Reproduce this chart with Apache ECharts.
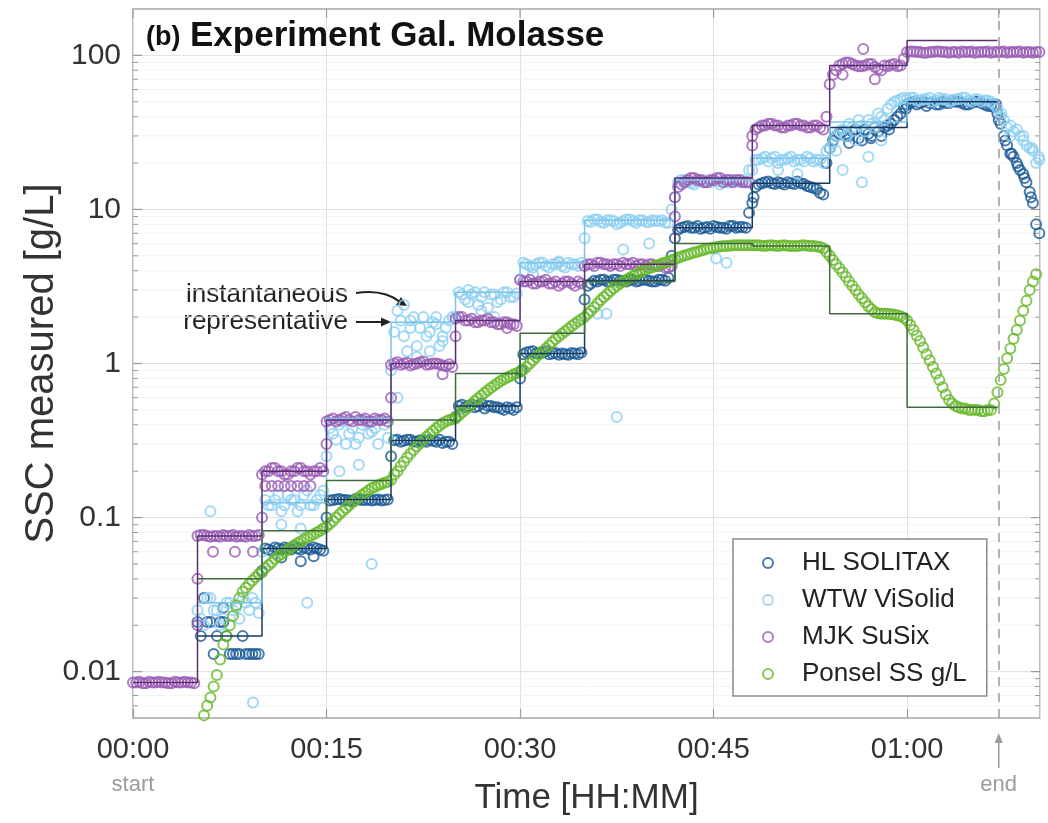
<!DOCTYPE html>
<html>
<head>
<meta charset="utf-8">
<script src="https://cdn.jsdelivr.net/npm/echarts@6/dist/echarts.min.js"></script>
<style>
  html, body { margin: 0; padding: 0; background: #ffffff; }
  #chart { width: 1048px; height: 823px; }
</style>
</head>
<body>
<div id="chart"></div>
<script>
// Sampling clock in minutes since start (readings every 15 s, split in two interleaved sets)
const minutes = [
  0,0.5,1,1.5,2,2.5,3,3.5,4,4.5,
  5,5.5,6,6.5,7,7.5,8,8.5,9,9.5,
  10,10.5,11,11.5,12,12.5,13,13.5,14,14.5,
  15,15.5,16,16.5,17,17.5,18,18.5,19,19.5,
  20,20.5,21,21.5,22,22.5,23,23.5,24,24.5,
  25,25.5,26,26.5,27,27.5,28,28.5,29,29.5,
  30,30.5,31,31.5,32,32.5,33,33.5,34,34.5,
  35,35.5,36,36.5,37,37.5,38,38.5,39,39.5,40,40.5,41,41.5,
  42,42.5,43,43.5,44,44.5,45,45.5,46,46.5,47,47.5,
  48,48.5,49,49.5,50,50.5,51,51.5,52,52.5,53,53.5,
  54,54.5,55,55.5,56,56.5,57,57.5,58,58.5,59,59.5,
  60,60.5,61,61.5,62,62.5,63,63.5,64,64.5,65,65.5,66,66.5,
  67,67.5,68,68.5,69,69.5,70
];
const minutesMid = [
  0.25,0.75,1.25,1.75,2.25,2.75,3.25,3.75,4.25,4.75,
  5.25,5.75,6.25,6.75,7.25,7.75,8.25,8.75,9.25,9.75,
  10.25,10.75,11.25,11.75,12.25,12.75,13.25,13.75,14.25,14.75,
  15.25,15.75,16.25,16.75,17.25,17.75,18.25,18.75,19.25,19.75,
  20.25,20.75,21.25,21.75,22.25,22.75,23.25,23.75,24.25,24.75,
  25.25,25.75,26.25,26.75,27.25,27.75,28.25,28.75,29.25,29.75,
  30.25,30.75,31.25,31.75,32.25,32.75,33.25,33.75,34.25,34.75,
  35.25,35.75,36.25,36.75,37.25,37.75,38.25,38.75,39.25,39.75,40.25,40.75,41.25,41.75,
  42.25,42.75,43.25,43.75,44.25,44.75,45.25,45.75,46.25,46.75,47.25,47.75,
  48.25,48.75,49.25,49.75,50.25,50.75,51.25,51.75,52.25,52.75,53.25,53.75,
  54.25,54.75,55.25,55.75,56.25,56.75,57.25,57.75,58.25,58.75,59.25,59.75,
  60.25,60.75,61.25,61.75,62.25,62.75,63.25,63.75,64.25,64.75,65.25,65.75,66.25,66.75,
  67.25,67.75,68.25,68.75,69.25,69.75,70.25
];

// Instantaneous SSC readings [g/L] per sensor, aligned with `minutes`
const hlValues = [
  null,null,null,null,null,null,null,null,null,null,
  0.021,0.03,0.021,0.017,0.021,0.013,0.013,0.017,0.013,0.013,
  0.045,0.062,0.064,0.062,0.063,0.065,0.062,0.063,0.064,0.062,
  0.1,0.13,0.132,0.13,0.128,0.131,0.13,0.129,0.131,0.13,
  0.25,0.32,0.315,0.32,0.31,0.315,0.32,0.31,0.305,0.31,
  0.45,0.54,0.53,0.52,0.55,0.53,0.52,0.51,0.52,0.5,
  0.8,1.18,1.2,1.17,1.2,1.16,1.14,1.15,1.17,1.15,
  2.6,3.3,3.4,3.5,3.4,3.5,3.45,3.5,3.4,3.5,3.45,3.4,3.5,3.6,
  6.5,7.6,7.8,7.6,7.5,7.7,7.8,7.6,7.5,7.8,7.7,7.6,
  11,14.5,15,14.8,15,14.5,14.8,15.2,14.6,14,13.5,12.5,
  25,30,32,30,33,28,31,34,30,35,38,42,
  48,50,49,47,50,48,49,51,50,48,49,50,48,47,
  42,30,23,20,17,13,8
];
const wtwValues = [
  null,null,null,null,null,null,null,null,null,null,
  0.025,0.02,0.03,0.025,0.022,0.028,0.026,0.03,0.025,0.028,
  0.06,0.12,0.13,0.11,0.14,0.13,0.12,0.15,0.12,0.14,
  0.25,0.35,0.4,0.3,0.38,0.33,0.42,0.36,0.3,0.4,
  0.9,2.2,1.5,1.9,1.3,2.0,1.6,1.8,1.4,1.9,
  2.0,2.8,2.5,2.9,2.7,2.3,2.8,2.6,2.9,2.7,
  3.5,4.4,4.2,4.5,4.3,4.4,4.5,4.2,4.4,4.3,
  6.5,8.3,8.6,8.2,8.5,8.0,8.4,8.6,8.2,8.5,8.3,8.4,8.5,8.2,
  12,15.5,15,14.5,15.5,15,15.5,14.5,15,15.5,15,15,
  18,21,22,21.5,20,21,22,21,20.5,21.5,21,20,
  25,30,33,36,28,35,38,34,40,45,50,52,
  52,53,51,52,50,53,52,51,52,53,50,52,51,50,
  45,38,30,33,28,25,20
];
const mjkValues = [
  0.0085,0.0086,0.0084,0.0085,0.0086,0.0085,0.0084,0.0085,0.0086,0.0085,
  0.076,0.077,0.075,0.076,0.077,0.076,0.075,0.076,0.077,0.076,
  0.19,0.2,0.21,0.2,0.19,0.2,0.21,0.2,0.2,0.21,
  0.42,0.44,0.43,0.45,0.42,0.43,0.44,0.42,0.43,0.44,
  0.98,1.02,1.0,0.97,1.0,1.03,0.99,1.0,0.97,0.99,
  1.95,2.0,1.9,1.85,1.9,1.95,1.85,1.8,1.85,1.8,
  3.5,3.4,3.3,3.4,3.5,3.3,3.2,3.4,3.3,3.4,
  4.3,4.4,4.5,4.4,4.3,4.4,4.5,4.4,4.3,4.4,4.4,4.3,4.4,4.2,
  12,14.5,15.5,16,15.5,15,15.5,16,15.5,15,15.5,15,
  30,34,35,36,35,34,35,36,35,34,35,33,
  65,80,88,90,86,85,88,84,80,85,88,86,
  105,106,105,104,105,106,105,105,104,105,106,105,105,104,
  105,106,105,105,104,105,105
];
const ponselValues = [
  null,null,null,null,null,null,null,null,null,null,
  null,0.0052,0.0068,0.0095,0.015,0.02,0.027,0.033,0.037,0.041,
  0.044,0.049,0.054,0.058,0.062,0.066,0.07,0.074,0.078,0.082,
  0.087,0.095,0.105,0.115,0.125,0.135,0.145,0.155,0.162,0.168,
  0.175,0.2,0.23,0.26,0.29,0.32,0.35,0.38,0.41,0.43,
  0.44,0.48,0.52,0.57,0.62,0.67,0.72,0.77,0.81,0.85,
  0.88,0.95,1.05,1.15,1.25,1.38,1.5,1.62,1.75,1.88,
  2.0,2.2,2.45,2.7,2.95,3.2,3.4,3.6,3.8,4.0,4.15,4.3,4.45,4.6,
  4.75,4.95,5.1,5.25,5.4,5.55,5.65,5.75,5.8,5.85,5.85,5.85,
  5.85,5.85,5.8,5.85,5.8,5.85,5.8,5.8,5.85,5.8,5.75,5.6,
  5.0,4.4,3.9,3.4,3.0,2.65,2.35,2.15,2.1,2.1,2.08,2.03,
  1.9,1.65,1.4,1.15,0.95,0.78,0.63,0.55,0.52,0.51,0.5,0.5,0.49,0.5,
  0.65,0.92,1.25,1.65,2.2,3.0,3.8
];

// Interleaved readings, aligned with `minutesMid`
const hlValuesMid = [
  null,null,null,null,null,null,null,null,null,null,
  0.017,0.021,0.013,0.021,0.017,0.013,0.013,0.013,0.013,0.013,
  0.063,0.061,0.063,0.064,0.062,0.063,0.064,0.062,0.063,0.061,
  0.129,0.131,0.13,0.129,0.132,0.13,0.131,0.13,0.129,0.131,
  0.318,0.31,0.32,0.312,0.318,0.31,0.315,0.32,0.31,0.3,
  0.53,0.52,0.54,0.53,0.51,0.53,0.52,0.5,0.51,0.52,
  1.15,1.19,1.16,1.18,1.15,1.17,1.16,1.14,1.16,1.18,
  3.2,3.45,3.5,3.4,3.5,3.45,3.4,3.5,3.45,3.5,3.4,3.5,3.45,5.0,
  7.4,7.7,7.6,7.8,7.6,7.5,7.7,7.6,7.8,7.6,7.7,9.5,
  14,14.8,15.2,14.6,14.8,15,14.6,14.8,14.2,13.8,12.8,20,
  28,31,30,32,29,33,30,32,34,36,40,46,
  49,48,50,49,48,50,49,50,49,48,50,49,47,46,
  36,26,22,18,15,11,7
];
const wtwValuesMid = [
  null,null,null,null,null,null,null,null,null,null,
  0.022,0.03,0.025,0.02,0.028,0.025,0.022,0.028,0.03,0.024,
  0.13,0.12,0.14,0.12,0.13,0.11,0.14,0.12,0.13,0.15,
  0.38,0.32,0.42,0.35,0.3,0.4,0.35,0.38,0.43,0.33,
  1.6,1.9,1.2,2.0,1.7,1.5,1.85,1.3,1.7,2.0,
  2.9,2.6,2.8,2.4,2.9,2.8,2.5,2.9,2.7,2.85,
  4.5,4.3,4.4,4.5,4.2,4.4,4.3,4.5,4.4,4.5,
  8.4,8.6,8.3,8.5,8.4,8.2,8.6,8.4,8.5,8.3,8.5,8.4,8.2,10,
  15,15.5,14.8,15.2,15.5,15,15.2,15.5,15,15.2,15.5,18,
  21,21.5,20.5,22,21,21.5,20.5,21,22,20.5,21,24,
  27,32,30,34,38,32,36,42,38,48,51,53,
  53,51,52,53,51,52,50,52,53,51,52,50,51,48,
  40,34,32,30,26,24,21
];
const mjkValuesMid = [
  0.0085,0.0084,0.0086,0.0085,0.0085,0.0084,0.0086,0.0085,0.0085,0.0084,
  0.077,0.076,0.076,0.075,0.076,0.077,0.076,0.075,0.076,0.077,
  0.2,0.21,0.2,0.19,0.2,0.21,0.2,0.19,0.2,0.2,
  0.43,0.42,0.44,0.43,0.45,0.43,0.42,0.44,0.43,0.42,
  1.0,0.98,1.01,0.99,1.02,0.98,1.0,0.99,0.96,0.95,
  2.0,1.9,1.95,1.85,1.9,1.85,1.8,1.85,1.8,1.75,
  3.4,3.5,3.3,3.4,3.3,3.4,3.3,3.4,3.2,3.3,
  4.4,4.3,4.5,4.4,4.4,4.3,4.4,4.5,4.4,4.3,4.4,4.3,4.2,4.3,
  14,15,16,15.5,15,15.5,16,15,15.5,15.5,15,15,
  33,35,36,35,34,35,36,35,34,35,34,40,
  75,86,90,88,85,86,88,82,86,87,85,95,
  106,105,104,105,106,105,104,105,106,105,104,105,106,105,
  105,104,105,106,105,104,105
];
const ponselValuesMid = [
  null,null,null,null,null,null,null,null,null,null,
  null,0.006,0.008,0.012,0.017,0.023,0.03,0.035,0.039,0.043,
  0.047,0.051,0.056,0.06,0.064,0.068,0.072,0.076,0.08,0.085,
  0.091,0.1,0.11,0.12,0.13,0.14,0.15,0.158,0.165,0.171,
  0.19,0.215,0.245,0.275,0.305,0.335,0.365,0.395,0.42,0.435,
  0.46,0.5,0.545,0.595,0.645,0.695,0.745,0.79,0.83,0.865,
  0.91,1.0,1.1,1.2,1.31,1.44,1.56,1.68,1.81,1.94,
  2.1,2.32,2.58,2.82,3.08,3.3,3.5,3.7,3.9,4.08,4.22,4.38,4.52,4.68,
  4.85,5.02,5.18,5.32,5.48,5.6,5.7,5.78,5.82,5.85,5.85,5.85,
  5.85,5.82,5.83,5.82,5.84,5.82,5.8,5.83,5.82,5.78,5.7,5.3,
  4.7,4.15,3.65,3.2,2.8,2.5,2.25,2.12,2.1,2.09,2.05,1.98,
  1.78,1.52,1.27,1.05,0.86,0.7,0.58,0.53,0.51,0.5,0.5,0.49,0.5,0.55,
  0.78,1.08,1.45,1.9,2.55,3.4,null
];

// Off-level readings [minute, g/L]
const hlExtra = [
  [7.0,0.026],[11.5,0.055],[13,0.052],[14,0.056],[30.1,0.9],[48.1,12],[59.9,45],
  [66.9,48],[67.1,38],[67.6,28],[68.1,23],[68.6,19],[69.1,16],[69.6,12],[55.5,27],[57.2,29],[58.6,33]
];
const wtwExtra = [
  [6,0.11],[9.3,0.0063],[11.5,0.09],[13,0.085],[13.5,0.028],[18.5,0.05],[16,0.2],
  [17.5,0.22],[21,2.4],[22,1.1],[23,1.2],[24,1.5],[20.5,0.6],[27,2.2],[28,2.0],
  [31,3.8],[36,2.1],[36.7,2.1],[38,5.5],[37.5,0.45],[40,6],[45.2,4.8],[46,4.5],
  [50,18],[51.5,17],[54.5,24],[55,18],[56.5,15],[57,22],[58,28],[67.3,42],[68,35],
  [69,30],[69.7,25],[70.2,22],[21.5,1.7],[23.5,2.0],[26,3.0],[33,4.6]
];
const mjkExtra = [
  [5,0.02],[5,0.04],[6.2,0.06],[7.9,0.06],[9.3,0.06],[10.25,0.16],[10.75,0.16],
  [11.25,0.16],[11.75,0.16],[12.25,0.16],[12.75,0.16],[13.25,0.16],[13.75,0.16],
  [10,0.1],[15,0.3],[20,0.6],[24,0.85],[25,1.5],[29,1.7],[42,9],[48,26],[55,75],
  [57.5,70],[56.6,110]
];
const ponselExtra = [];

// Representative (step) concentration per dosing interval
const stepMinutes = [0,5,10,15,20,25,30,35,42,48,54,60,67];
const hlRep     = [null,0.017,0.063,0.131,0.316,0.53,1.16,3.46,7.6,14.8,34,50,50];
const wtwRep    = [null,0.028,0.125,0.44,1.85,2.9,4.5,8.5,15.5,21.5,37,52,52];
const mjkRep    = [0.0085,0.076,0.2,0.43,1.0,1.9,3.4,4.4,16,35,86,125,125];
const ponselRep = [null,0.04,0.082,0.174,0.43,0.86,1.57,3.4,6.0,5.8,2.1,0.52,0.52];

// Axis ticks
const timeTicks = [0,15,30,45,60];
const decadeTicks = [0.01,0.1,1,10,100];
const minorLevels = [
  0.006,0.007,0.008,0.009,
  0.02,0.03,0.04,0.05,0.06,0.07,0.08,0.09,
  0.2,0.3,0.4,0.5,0.6,0.7,0.8,0.9,
  2,3,4,5,6,7,8,9,
  20,30,40,50,60,70,80,90
];
const endMinute = 67.1;
const xMax = 70.3;
const yMin = 0.005, yMax = 200;

const FONT = "'Liberation Sans', Arial, Helvetica, sans-serif";

const sensors = [
  { name: 'HL SOLITAX',    values: hlValues,     mid: hlValuesMid,     extra: hlExtra,     rep: hlRep,     color: '#1d5b96', repColor: '#18395f' },
  { name: 'WTW ViSolid',   values: wtwValues,    mid: wtwValuesMid,    extra: wtwExtra,    rep: wtwRep,    color: '#8dd0f2', repColor: '#7cc3e6' },
  { name: 'MJK SuSix',     values: mjkValues,    mid: mjkValuesMid,    extra: mjkExtra,    rep: mjkRep,    color: '#9a5cb4', repColor: '#5a2c70' },
  { name: 'Ponsel SS g/L', values: ponselValues, mid: ponselValuesMid, extra: ponselExtra, rep: ponselRep, color: '#66b82a', repColor: '#3e6a3e' }
];

function toPairs(times, values) {
  const out = [];
  times.forEach((t, i) => { if (values[i] != null) out.push([t, values[i]]); });
  return out;
}

function hhmm(v) {
  const h = Math.floor(v / 60), m = Math.round(v % 60);
  return String(h).padStart(2, '0') + ':' + String(m).padStart(2, '0');
}

const scatterSeries = sensors.map(s => ({
  name: s.name,
  type: 'scatter',
  symbol: 'circle',
  symbolSize: 10,
  data: toPairs(minutes, s.values).concat(toPairs(minutesMid, s.mid), s.extra),
  itemStyle: { color: 'rgba(255,255,255,0)', borderColor: s.color, borderWidth: 2 },
  emphasis: { disabled: true },
  z: 3
}));

const stepSeries = sensors.map(s => ({
  name: s.name + ' (representative)',
  type: 'line',
  step: 'end',
  symbol: 'none',
  data: stepMinutes.map((t, i) => [t, s.rep[i]]),
  lineStyle: { color: s.repColor, width: 1.5 },
  silent: true,
  z: 4
}));

// Log grid (decades and minors) and the box ticks
const frameSeries = {
  type: 'custom',
  silent: true,
  data: [[0, 1]],
  z: 1,
  renderItem(params, api) {
    const cs = params.coordSys;
    const L = cs.x, R = cs.x + cs.width, T = cs.y;
    const children = [];
    minorLevels.forEach(v => {
      const y = api.coord([0, v])[1];
      children.push({ type: 'line', shape: { x1: L, y1: y, x2: R, y2: y }, style: { stroke: '#f4f4f4', lineWidth: 1 } });
      children.push({ type: 'line', shape: { x1: L, y1: y, x2: L + 5, y2: y }, style: { stroke: '#9a9a9a', lineWidth: 1 } });
      children.push({ type: 'line', shape: { x1: R - 5, y1: y, x2: R, y2: y }, style: { stroke: '#9a9a9a', lineWidth: 1 } });
    });
    decadeTicks.forEach(v => {
      const y = api.coord([0, v])[1];
      children.push({ type: 'line', shape: { x1: L, y1: y, x2: R, y2: y }, style: { stroke: '#e0e0e0', lineWidth: 1 } });
      children.push({ type: 'line', shape: { x1: L, y1: y, x2: L + 9, y2: y }, style: { stroke: '#9a9a9a', lineWidth: 1.2 } });
      children.push({ type: 'line', shape: { x1: R - 9, y1: y, x2: R, y2: y }, style: { stroke: '#9a9a9a', lineWidth: 1.2 } });
    });
    timeTicks.concat([endMinute]).forEach(t => {
      const x = api.coord([t, 1])[0];
      children.push({ type: 'line', shape: { x1: x, y1: T, x2: x, y2: T + 9 }, style: { stroke: '#9a9a9a', lineWidth: 1.2 } });
    });
    return { type: 'group', children };
  }
};

const chart = echarts.init(document.getElementById('chart'), null, { renderer: 'canvas' });

const option = {
  animation: false,
  backgroundColor: '#ffffff',
  textStyle: { fontFamily: FONT },
  grid: {
    left: 133, right: 8, top: 9, bottom: 105,
    show: true, borderColor: '#a8a8a8', borderWidth: 1.5, backgroundColor: 'transparent'
  },
  legend: {
    data: sensors.map(s => s.name),
    orient: 'vertical',
    left: 733, top: 539,
    itemWidth: 58, itemHeight: 10, itemGap: 11,
    padding: [11, 20, 9, 29],
    backgroundColor: '#ffffff',
    borderColor: '#8a8a8a', borderWidth: 1.5, borderRadius: 0,
    textStyle: { fontSize: 26, color: '#222', fontFamily: FONT, lineHeight: 26 },
    selectedMode: false,
    z: 10
  },
  xAxis: {
    type: 'value',
    min: 0, max: xMax, interval: 15,
    name: 'Time [HH:MM]',
    nameLocation: 'middle',
    nameGap: 63,
    nameMoveOverlap: false,
    nameTextStyle: { fontSize: 35, color: '#333', fontFamily: FONT },
    axisLine: { show: false },
    axisTick: { show: true, inside: true, length: 9, lineStyle: { color: '#9a9a9a', width: 1.2 } },
    axisLabel: {
      fontSize: 29, color: '#333', margin: 17, fontFamily: FONT,
      showMaxLabel: false,
      formatter: v => (timeTicks.indexOf(v) >= 0 ? hhmm(v) : '')
    },
    splitLine: { show: true, lineStyle: { color: '#e0e0e0', width: 1 } }
  },
  yAxis: {
    type: 'log',
    logBase: 10,
    min: yMin, max: yMax,
    name: 'SSC measured [g/L]',
    nameLocation: 'middle',
    nameGap: 71,
    nameMoveOverlap: false,
    nameTextStyle: { fontSize: 40, color: '#333', fontFamily: FONT },
    axisLine: { show: false },
    axisTick: { show: false },
    axisLabel: {
      fontSize: 30, color: '#333', margin: 12, fontFamily: FONT,
      showMinLabel: false, showMaxLabel: false,
      formatter: v => {
        const hit = decadeTicks.find(d => Math.abs(Math.log10(v) - Math.log10(d)) < 1e-6);
        return hit != null ? String(hit) : '';
      }
    },
    splitLine: { show: false }
  },
  series: [frameSeries].concat(scatterSeries, stepSeries, [{
    type: 'line',
    data: [],
    silent: true,
    markLine: {
      silent: true,
      symbol: 'none',
      label: { show: false },
      lineStyle: { color: '#a0a0a0', type: [9, 7], width: 1.6 },
      data: [{ xAxis: endMinute }]
    }
  }])
};

chart.setOption(option);

// Title, annotations and start/end markers
const startX = chart.convertToPixel({ gridIndex: 0 }, [0, 1])[0];
const endX = chart.convertToPixel({ gridIndex: 0 }, [endMinute, 1])[0];
const bottomY = chart.convertToPixel({ gridIndex: 0 }, [0, yMin])[1];

chart.setOption({
  graphic: [
    { type: 'text', left: 146, top: 24, style: { text: '(b)', font: 'bold 27px ' + FONT, fill: '#111' } },
    { type: 'text', left: 190, top: 19, style: { text: 'Experiment Gal. Molasse', font: 'bold 35px ' + FONT, fill: '#111' } },

    { type: 'text', x: 348, y: 295, style: { text: 'instantaneous', font: '26px ' + FONT, fill: '#222', align: 'right', verticalAlign: 'middle' } },
    { type: 'text', x: 348, y: 322, style: { text: 'representative', font: '26px ' + FONT, fill: '#222', align: 'right', verticalAlign: 'middle' } },
    { type: 'bezierCurve', shape: { x1: 356, y1: 293, x2: 400, y2: 302, cpx1: 384, cpy1: 289 }, style: { stroke: '#222', lineWidth: 2, fill: null } },
    { type: 'polygon', shape: { points: [[407, 306], [396, 305], [401, 297]] }, style: { fill: '#222' } },
    { type: 'line', shape: { x1: 356, y1: 322, x2: 382, y2: 322 }, style: { stroke: '#222', lineWidth: 2 } },
    { type: 'polygon', shape: { points: [[391, 322], [381, 317.5], [381, 326.5]] }, style: { fill: '#222' } },

    { type: 'text', x: startX, y: bottomY + 67, style: { text: 'start', font: '22px ' + FONT, fill: '#9c9c9c', align: 'center', verticalAlign: 'middle' } },
    { type: 'text', x: endX, y: bottomY + 67, style: { text: 'end', font: '22px ' + FONT, fill: '#9c9c9c', align: 'center', verticalAlign: 'middle' } },
    { type: 'line', shape: { x1: endX, y1: bottomY + 50, x2: endX, y2: bottomY + 22 }, style: { stroke: '#9c9c9c', lineWidth: 1.6 } },
    { type: 'polygon', shape: { points: [[endX, bottomY + 15], [endX - 4, bottomY + 25], [endX + 4, bottomY + 25]] }, style: { fill: '#9c9c9c' } }
  ]
});
</script>
</body>
</html>
